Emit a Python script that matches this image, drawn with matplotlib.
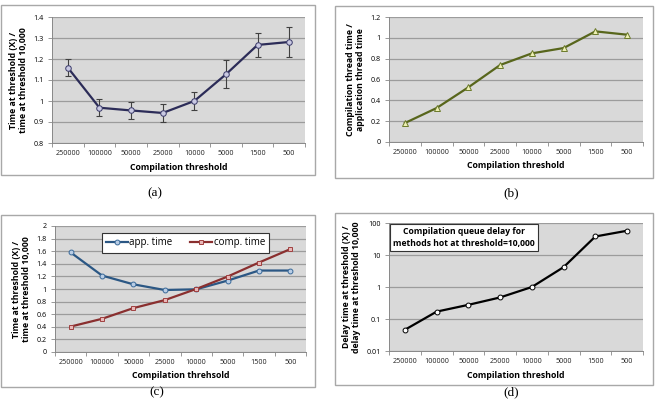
import numpy as np
import matplotlib.pyplot as plt
from matplotlib.patches import Rectangle
from matplotlib.ticker import FixedLocator, FuncFormatter

thresholds = ['250000', '100000', '50000', '25000', '10000', '5000', '1500', '500']

# (a) total time relative to threshold 10,000, with error bars
time_ratio = [1.159, 0.968, 0.955, 0.943, 1.0, 1.127, 1.267, 1.281]
time_err = [0.042, 0.040, 0.042, 0.044, 0.043, 0.067, 0.058, 0.070]

# (b) compilation thread time / application thread time
comp_app_ratio = [0.182, 0.326, 0.525, 0.739, 0.851, 0.902, 1.062, 1.030]

# (c) app. time and comp. time relative to threshold 10,000
app_time = [1.58, 1.213, 1.074, 0.984, 0.995, 1.133, 1.293, 1.293]
comp_time = [0.404, 0.527, 0.697, 0.824, 1.0, 1.197, 1.42, 1.633]

# (d) queue delay relative to threshold 10,000 (log scale)
delay_ratio = [0.046, 0.17, 0.277, 0.472, 1.0, 4.18, 37.9, 57.3]

W, H = 656, 399
fig = plt.figure(figsize=(W / 100, H / 100), dpi=100)
fig.patch.set_facecolor('white')

FONT = 'Open Sans'
GRID = '#9c9c9c'
AREA = '#d9d9d9'


def px_box(x0, y0, x1, y1):
    return [x0 / W, 1 - y1 / H, (x1 - x0) / W, (y1 - y0) / H]


def frame(x0, y0, x1, y1):
    fig.patches.append(Rectangle((x0 / W, 1 - y1 / H), (x1 - x0) / W, (y1 - y0) / H,
                                 transform=fig.transFigure, facecolor='white',
                                 edgecolor='#a8a8a8', lw=1.0, zorder=-5))


def setup(ax, xlabel, ylabel):
    ax.set_facecolor(AREA)
    ax.set_xlim(-0.5, 7.5)
    ax.set_xticks(range(8))
    ax.set_xticklabels(thresholds, fontsize=5.2, family=FONT, color='#222222')
    ax.xaxis.set_minor_locator(FixedLocator(np.arange(-0.5, 8, 1)))
    ax.tick_params(axis='x', which='major', length=0, pad=5)
    ax.tick_params(axis='x', which='minor', length=3, color='#888888', width=0.6)
    ax.tick_params(axis='y', length=3, color='#888888', width=0.6, labelsize=5.2, pad=3)
    for lab in ax.get_yticklabels():
        lab.set_family(FONT)
    ax.grid(axis='y', color=GRID, lw=0.9)
    ax.set_axisbelow(True)
    for s in ['top', 'right']:
        ax.spines[s].set_visible(False)
    for s in ['left', 'bottom']:
        ax.spines[s].set_color('#888888')
        ax.spines[s].set_linewidth(0.7)
    ax.set_xlabel(xlabel, fontsize=6.3, fontweight='bold', family=FONT, labelpad=4)
    ax.set_ylabel(ylabel, fontsize=6.3, fontweight='bold', family=FONT, labelpad=4,
                  linespacing=1.1)


gfmt = FuncFormatter(lambda v, p: '%g' % v)
x = np.arange(8)

# panel (a)
frame(1, 5, 315, 175)
ax = fig.add_axes(px_box(52, 17, 305, 143))
setup(ax, 'Compilation threshold', 'Time at threshold (X) /\ntime at threshold 10,000')
ax.set_ylim(0.8, 1.4)
ax.set_yticks(np.arange(0.8, 1.41, 0.1))
ax.yaxis.set_major_formatter(gfmt)
ax.errorbar(x, time_ratio, yerr=time_err, fmt='none', ecolor='#404040',
            elinewidth=0.8, capsize=2, capthick=0.8, zorder=2)
ax.plot(x, time_ratio, color='#2c2c58', lw=1.6, marker='o', ms=4,
        mfc='#c9c9e2', mec='#3a3a6a', mew=0.7, zorder=3)
fig.text(155 / W, 1 - 193 / H, '(a)', ha='center', va='center', fontsize=9.5,
         family='Liberation Serif')

# panel (b)
frame(335, 6, 653, 178)
ax = fig.add_axes(px_box(389, 17, 643, 142))
setup(ax, 'Compilation threshold', 'Compilation thread time /\napplication thread time')
ax.set_ylim(0, 1.2)
ax.set_yticks(np.arange(0, 1.21, 0.2))
ax.yaxis.set_major_formatter(gfmt)
ax.plot(x, comp_app_ratio, color='#58661c', lw=1.6, marker='^', ms=4.5,
        mfc='#eef0b4', mec='#6b7a2a', mew=0.7, zorder=3)
fig.text(511 / W, 1 - 193 / H, '(b)', ha='center', va='center', fontsize=9.5,
         family='Liberation Serif')

# panel (c)
frame(1, 215, 315, 387)
ax = fig.add_axes(px_box(55, 226, 306, 352))
setup(ax, 'Compilation threhsold', 'Time at threshold (X) /\ntime at threshold 10,000')
ax.set_ylim(0, 2)
ax.set_yticks(np.arange(0, 2.01, 0.2))
ax.yaxis.set_major_formatter(gfmt)
ax.plot(x, app_time, color='#2b5784', lw=1.6, marker='o', ms=3.5,
        mfc='#b9cde5', mec='#3a6a9a', mew=0.7, zorder=3, label='app. time')
ax.plot(x, comp_time, color='#8a2f2f', lw=1.6, marker='s', ms=3.5,
        mfc='#e8b8b8', mec='#a04040', mew=0.7, zorder=3, label='comp. time')
leg = ax.legend(loc='upper left', bbox_to_anchor=(0.167, 0.985), ncol=2,
                prop={'family': FONT, 'size': 7}, frameon=True, fancybox=False,
                edgecolor='#333333', framealpha=1, handlelength=2.2,
                handletextpad=0.2, columnspacing=1.8, borderpad=0.45)
leg.get_frame().set_linewidth(0.8)
fig.text(157 / W, 1 - 392 / H, '(c)', ha='center', va='center', fontsize=9.5,
         family='Liberation Serif')

# panel (d)
frame(335, 213, 653, 385)
ax = fig.add_axes(px_box(389, 223, 643, 351))
setup(ax, 'Compilation threshold', 'Delay time at threshold (X) /\ndelay time at threshold 10,000')
ax.set_yscale('log')
ax.set_ylim(0.01, 100)
ax.set_yticks([0.01, 0.1, 1, 10, 100])
ax.yaxis.set_major_formatter(gfmt)
ax.yaxis.set_minor_locator(FixedLocator([]))
ax.plot(x, delay_ratio, color='black', lw=1.6, marker='o', ms=3.5,
        mfc='white', mec='black', mew=0.7, zorder=3)
ax.text(0.295, 0.885, 'Compilation queue delay for\nmethods hot at threshold=10,000',
        transform=ax.transAxes, ha='center', va='center', fontsize=6.2,
        fontweight='bold', family=FONT, linespacing=1.35,
        bbox=dict(boxstyle='square,pad=0.35', fc='white', ec='#333333', lw=0.8))
fig.text(511 / W, 1 - 392 / H, '(d)', ha='center', va='center', fontsize=9.5,
         family='Liberation Serif')

fig.savefig('out.png', dpi=100)
